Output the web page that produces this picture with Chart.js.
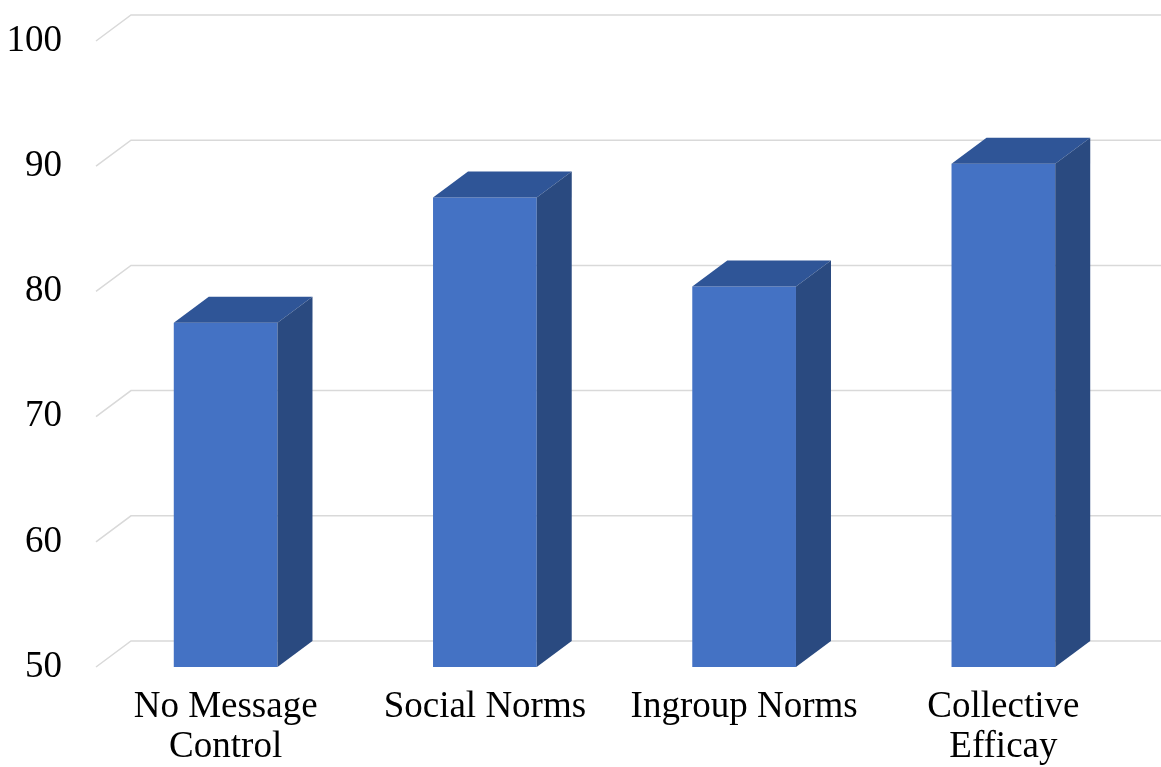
<!DOCTYPE html>
<html>
<head>
<meta charset="utf-8">
<script src="https://cdn.jsdelivr.net/npm/chart.js@4"></script>
<style>
  html, body { margin: 0; padding: 0; background: #fff; }
  #wrap { width: 1161px; height: 767px; overflow: hidden; }
</style>
</head>
<body>
<div id="wrap"><canvas id="chart" width="1161" height="767"></canvas></div>
<script>
// data
const categories = [['No Message', 'Control'], 'Social Norms', 'Ingroup Norms', ['Collective', 'Efficay']];
const scores = [77.5, 87.5, 80.4, 90.2];
const yTicks = [50, 60, 70, 80, 90, 100];

// 3d look
const DEPTH_X = 35;
const DEPTH_Y = 26;
const FRONT = '#4472C4';
const TOP = '#2F5597';
const SIDE = '#2A4A80';
const GRID = '#D9D9D9';

// back wall grid with the little diagonal at the left
const wallGrid = {
  id: 'wallGrid',
  beforeDatasetsDraw(chart) {
    const { ctx, chartArea, scales } = chart;
    ctx.save();
    ctx.strokeStyle = GRID;
    ctx.lineWidth = 1.5;
    yTicks.forEach(v => {
      const y = scales.y.getPixelForValue(v);
      ctx.beginPath();
      ctx.moveTo(chartArea.left, y);
      ctx.lineTo(chartArea.left + DEPTH_X, y - DEPTH_Y);
      ctx.lineTo(chart.width, y - DEPTH_Y);
      ctx.stroke();
    });
    ctx.restore();
  }
};

// top and side faces of each bar
const barFaces = {
  id: 'barFaces',
  afterDatasetsDraw(chart) {
    const { ctx, scales } = chart;
    const meta = chart.getDatasetMeta(0);
    const floor = scales.y.getPixelForValue(scales.y.min);
    ctx.save();
    meta.data.forEach(bar => {
      const { x, y, width } = bar.getProps(['x', 'y', 'width'], true);
      const l = x - width / 2, r = x + width / 2;
      ctx.fillStyle = TOP;
      ctx.beginPath();
      ctx.moveTo(l, y);
      ctx.lineTo(l + DEPTH_X, y - DEPTH_Y);
      ctx.lineTo(r + DEPTH_X, y - DEPTH_Y);
      ctx.lineTo(r, y);
      ctx.closePath();
      ctx.fill();
      ctx.fillStyle = SIDE;
      ctx.beginPath();
      ctx.moveTo(r, y);
      ctx.lineTo(r + DEPTH_X, y - DEPTH_Y);
      ctx.lineTo(r + DEPTH_X, floor - DEPTH_Y);
      ctx.lineTo(r, floor);
      ctx.closePath();
      ctx.fill();
    });
    ctx.restore();
  }
};

const font = { family: "'Liberation Serif', 'Times New Roman', serif", size: 37, lineHeight: 1.08 };

new Chart(document.getElementById('chart'), {
  type: 'bar',
  data: {
    labels: categories,
    datasets: [{
      data: scores,
      backgroundColor: FRONT,
      borderWidth: 0,
      barPercentage: 0.4,
      categoryPercentage: 1
    }]
  },
  options: {
    responsive: false,
    devicePixelRatio: 1,
    animation: false,
    layout: { padding: { top: 41, right: 28, left: 0, bottom: 0 } },
    plugins: { legend: { display: false }, tooltip: { enabled: false } },
    scales: {
      x: {
        grid: { display: false, drawTicks: false },
        border: { display: false },
        ticks: { color: '#000', font, padding: 20, maxRotation: 0, autoSkip: false },
        afterFit(scale) { scale.height = 100; }
      },
      y: {
        min: 50,
        max: 100,
        grid: { display: false, drawTicks: false },
        border: { display: false },
        ticks: { color: '#000', font, padding: 34, stepSize: 10 },
        afterFit(scale) {
          scale.width = 96;
          scale.paddingTop = 0;
          scale.paddingBottom = 0;
        }
      }
    }
  },
  plugins: [wallGrid, barFaces]
});
</script>
</body>
</html>
